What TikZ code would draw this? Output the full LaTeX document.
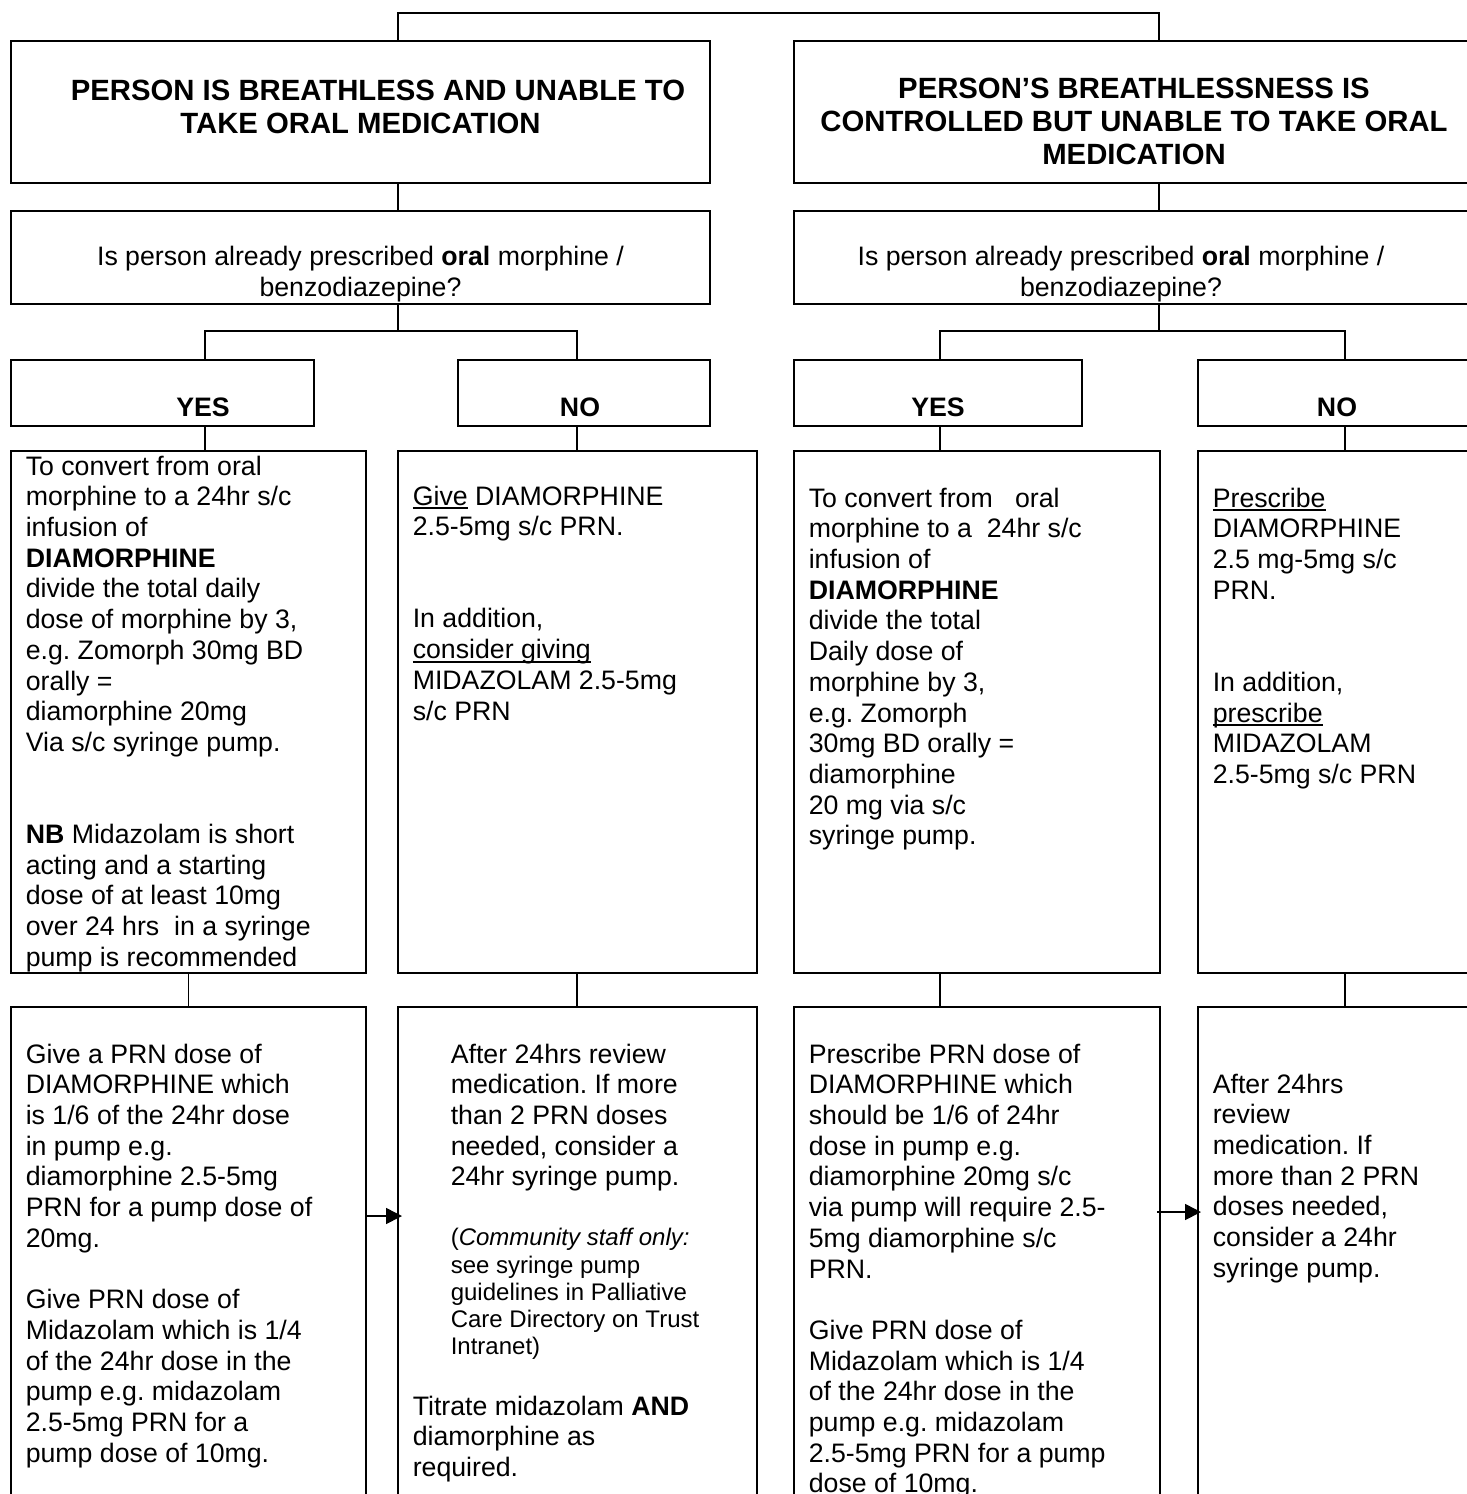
\documentclass[tikz,border=0pt]{standalone}
\usepackage{fontspec}
\setmainfont{Liberation Sans}
\usetikzlibrary{arrows.meta,positioning}
\frenchspacing
\newcommand{\bodyfont}{\fontsize{26.7pt}{30.7pt}\selectfont}
\newcommand{\headfont}{\fontsize{29.3pt}{33pt}\selectfont\bfseries}
\newcommand{\notefont}{\fontsize{24pt}{27.3pt}\selectfont}
\newsavebox{\undlbox}
\newcommand{\undl}[1]{\sbox{\undlbox}{#1}\rlap{\rule[-4pt]{\wd\undlbox}{1.8pt}}\usebox{\undlbox}}

\begin{document}
\begin{tikzpicture}[x=1pt,y=-1pt,line width=1.6pt,
  box/.style={draw,inner sep=0,outer sep=0,anchor=north west},
  head/.style={font=\headfont,align=center,inner sep=0,anchor=north,execute at begin node=\strut},
  quest/.style={font=\bodyfont,align=center,inner sep=0,anchor=north,execute at begin node=\strut},
  answer/.style={font=\bodyfont\bfseries,inner sep=0,anchor=base},
  txt/.style={font=\bodyfont,align=left,inner sep=0,anchor=north west,execute at begin node=\strut},
  note/.style={txt,font=\notefont},
  flow/.style={-{Triangle[length=16pt,width=16pt]}}]
 \useasboundingbox (0,0) rectangle (1467,1494);
 \fill[white] (0,0) rectangle (1467,1494);
 \clip (0,0) rectangle (1467,1494);

 \node[box,minimum width=699pt,minimum height=142pt] (a1) at (11,41) {};
 \node[box,minimum width=680pt,minimum height=142pt] (b1) at (794,41) {};
 \node[box,minimum width=699pt,minimum height=93pt] (a2) at (11,211) {};
 \node[box,minimum width=680pt,minimum height=93pt] (b2) at (794,211) {};
 \node[box,minimum width=303pt,minimum height=66pt] (a3y) at (11,360) {};
 \node[box,minimum width=252pt,minimum height=66pt] (a3n) at (458,360) {};
 \node[box,minimum width=288pt,minimum height=66pt] (b3y) at (794,360) {};
 \node[box,minimum width=276pt,minimum height=66pt] (b3n) at (1198,360) {};
 \node[box,minimum width=355pt,minimum height=522pt] (a4y) at (11,451) {};
 \node[box,minimum width=359pt,minimum height=522pt] (a4n) at (398,451) {};
 \node[box,minimum width=366pt,minimum height=522pt] (b4y) at (794,451) {};
 \node[box,minimum width=276pt,minimum height=522pt] (b4n) at (1198,451) {};
 \node[box,minimum width=355pt,minimum height=520pt] (a5y) at (11,1007) {};
 \node[box,minimum width=359pt,minimum height=520pt] (a5n) at (398,1007) {};
 \node[box,minimum width=366pt,minimum height=520pt] (b5y) at (794,1007) {};
 \node[box,minimum width=276pt,minimum height=520pt] (b5n) at (1198,1007) {};

 \coordinate (sa) at (398,13);
 \coordinate (sb) at (1159,13);
 \coordinate (ya) at (205,331);
 \coordinate (na) at (577,331);
 \coordinate (yb) at (940,331);
 \coordinate (nb) at (1345,331);
 \coordinate (la) at (0,1216);
 \coordinate (lb) at (0,1212);

 \draw (a1.north -| sa) -- (sa) -- (sb) -- (b1.north -| sb);
 \draw (a1.south -| sa) -- (a2.north -| sa);
 \draw (b1.south -| sb) -- (b2.north -| sb);
 \draw (a2.south -| sa) -- (sa |- ya);
 \draw (b2.south -| sb) -- (sb |- yb);
 \draw (a3y.north -| ya) -- (ya) -- (na) -- (a3n.north -| na);
 \draw (b3y.north -| yb) -- (yb) -- (nb) -- (b3n.north -| nb);
 \draw (a3y.south -| ya) -- (a4y.north -| ya);
 \draw (a3n.south -| na) -- (a4n.north -| na);
 \draw (b3y.south -| yb) -- (b4y.north -| yb);
 \draw (b3n.south -| nb) -- (b4n.north -| nb);
 \draw (a4y.south) -- (a5y.north);
 \draw (a4n.south -| na) -- (a5n.north -| na);
 \draw (b4y.south -| yb) -- (b5y.north -| yb);
 \draw (b4n.south -| nb) -- (b5n.north -| nb);
 \draw[flow,shorten >=-4pt] (a5y.east |- la) -- (a5n.west |- la);
 \draw[flow,shorten <=-3pt,shorten >=-3pt] (b5y.east |- lb) -- (b5n.west |- lb);

 \node[head] (a1t) at (360.5,79.5)
  {\hspace*{35pt}PERSON IS BREATHLESS AND UNABLE TO\\TAKE ORAL MEDICATION};
 \node[head] (b1t) at (1134,77.5)
  {PERSON’S BREATHLESSNESS IS\\CONTROLLED BUT UNABLE TO TAKE ORAL\\MEDICATION};
 \node[quest] (a2t) at (360.5,245)
  {Is person already prescribed \textbf{oral} morphine /\\[1pt]benzodiazepine?};
 \node[quest] (b2t) at (1121,245)
  {Is person already prescribed \textbf{oral} morphine /\\[1pt]benzodiazepine?};
 \node[answer] (a3yt) at (203,416.5) {YES};
 \node[answer] (a3nt) at (580,416.5) {NO};
 \node[answer] (b3yt) at (938,416.5) {YES};
 \node[answer] (b3nt) at (1337,416.5) {NO};

 \node[txt] (a4yt) at (25,455)
  {To convert from oral\\morphine to a 24hr s/c\\infusion of\\\textbf{DIAMORPHINE}\\
   divide the total daily\\dose of morphine by 3,\\e.g. Zomorph 30mg BD\\orally =\\
   diamorphine 20mg\\Via s/c syringe pump.\\[61.4pt]
   \textbf{NB} Midazolam is short\\acting and a starting\\dose of at least 10mg\\
   over 24 hrs\ \ in a syringe\\pump is recommended};
 \node[txt] (a4nt) at (412,485)
  {\undl{Give} DIAMORPHINE\\2.5-5mg s/c PRN.\\[61.4pt]
   In addition,\\\undl{consider giving}\\MIDAZOLAM 2.5-5mg\\s/c PRN};
 \node[txt] (b4yt) at (808,487)
  {To convert from\ \ \ oral\\morphine to a\ \ 24hr s/c\\infusion of\\\textbf{DIAMORPHINE}\\
   divide the total\\Daily dose of\\morphine by 3,\\e.g. Zomorph\\30mg BD orally =\\
   diamorphine\\20 mg via s/c\\syringe pump.};
 \node[txt] (b4nt) at (1212,487)
  {\undl{Prescribe}\\DIAMORPHINE\\2.5 mg-5mg s/c\\PRN.\\[61.4pt]
   In addition,\\\undl{prescribe}\\MIDAZOLAM\\2.5-5mg s/c PRN};

 \node[txt] (a5yt) at (25,1043)
  {Give a PRN dose of\\DIAMORPHINE which\\is 1/6 of the 24hr dose\\in pump e.g.\\
   diamorphine 2.5-5mg\\PRN for a pump dose of\\20mg.\\[30.7pt]
   Give PRN dose of\\Midazolam which is 1/4\\of the 24hr dose in the\\
   pump e.g. midazolam\\2.5-5mg PRN for a\\pump dose of 10mg.};
 \node[txt] (a5nt) at (450,1043)
  {After 24hrs review\\medication. If more\\than 2 PRN doses\\needed, consider a\\
   24hr syringe pump.};
 \node[note] (a5nn) at (450,1227.5)
  {(\textit{Community staff only:}\\see syringe pump\\guidelines in Palliative\\
   Care Directory on Trust\\Intranet)};
 \node[txt] (a5nr) at (412,1395)
  {Titrate midazolam \textbf{AND}\\diamorphine as\\required.};
 \node[txt] (b5yt) at (808,1043)
  {Prescribe PRN dose of\\DIAMORPHINE which\\should be 1/6 of 24hr\\dose in pump e.g.\\
   diamorphine 20mg s/c\\via pump will require 2.5-\\5mg diamorphine s/c\\PRN.\\[30.7pt]
   Give PRN dose of\\Midazolam which is 1/4\\of the 24hr dose in the\\
   pump e.g. midazolam\\2.5-5mg PRN for a pump\\dose of 10mg.};
 \node[txt] (b5nt) at (1212,1073)
  {After 24hrs\\review\\medication. If\\more than 2 PRN\\doses needed,\\
   consider a 24hr\\syringe pump.};
\end{tikzpicture}
\end{document}
